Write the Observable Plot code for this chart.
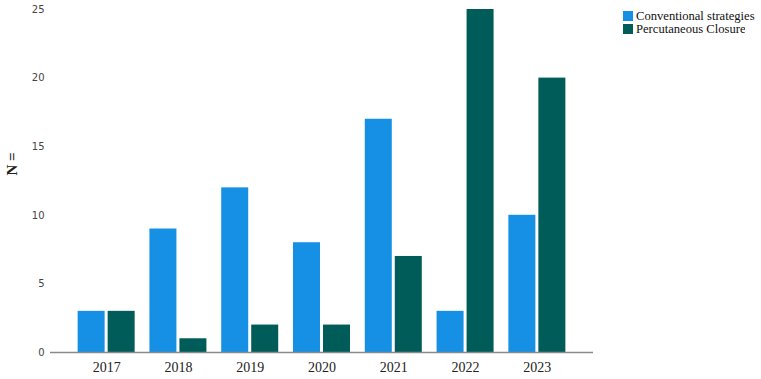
<!DOCTYPE html>
<html>
<head>
<meta charset="utf-8">
<script src="https://cdn.jsdelivr.net/npm/d3@7"></script>
<script src="https://cdn.jsdelivr.net/npm/@observablehq/plot@0.6"></script>
<style>
  html, body { margin: 0; padding: 0; background: #fff; }
  #wrap { position: relative; width: 761px; height: 379px; }
  #legend { position: absolute; left: 623px; top: 10px; }
  #legend > div { margin: 0 !important; min-height: 0 !important; }
  #legend > div > div { display: flex !important; align-items: center; margin: 0 !important; padding: 0 !important; height: 12.8px; line-height: 12.8px; }
  #legend svg { margin-right: 3px !important; }
</style>
</head>
<body>
<div id="wrap"><div id="legend"></div></div>
<script>
const years = ["2017", "2018", "2019", "2020", "2021", "2022", "2023"];
const seriesNames = ["Conventional strategies", "Percutaneous Closure"];
const conventional = [3, 9, 12, 8, 17, 3, 10];
const percutaneous = [3, 1, 2, 2, 7, 25, 20];
const yTicks = [0, 5, 10, 15, 20, 25];
const yLabel = "N =";
const colors = ["#1590e4", "#005c58"];

const convData = years.map((year, i) => ({year, series: seriesNames[0], n: conventional[i]}));
const percData = years.map((year, i) => ({year, series: seriesNames[1], n: percutaneous[i]}));

const chart = Plot.plot({
  width: 761,
  height: 379,
  marginLeft: 50,
  marginRight: 168,
  marginTop: 9,
  marginBottom: 27,
  x: {domain: years, paddingInner: 0.206, paddingOuter: 0.385, round: false, label: null, axis: null},
  y: {domain: [0, 25], label: null, axis: null},
  color: {domain: seriesNames, range: colors},
  marks: [
    Plot.barY(convData, {x: "year", y: "n", fill: "series", insetRight: 30}),
    Plot.barY(percData, {x: "year", y: "n", fill: "series", insetLeft: 30}),
    Plot.ruleY([0], {stroke: "#8a8a8a", strokeWidth: 1.5}),
    Plot.axisY(yTicks, {tickSize: 0, tickPadding: 6, fontSize: 10, fontFamily: "DejaVu Sans", fill: "#444", label: null}),
    Plot.axisX({tickSize: 0, tickPadding: 10, fontSize: 14, fontFamily: "Liberation Serif", fill: "#222", label: null}),
    Plot.text([yLabel], {frameAnchor: "left", rotate: -90, dx: -38, dy: -17, textAnchor: "middle", lineAnchor: "middle", fontSize: 15, fontWeight: "bold", fontFamily: "Liberation Serif", fill: "#222"})
  ]
});
document.getElementById("wrap").prepend(chart);

const legend = Plot.legend({
  color: {domain: seriesNames, range: colors},
  legend: "swatches",
  columns: 1,
  swatchSize: 10,
  className: "lg",
  style: {fontFamily: "Liberation Serif", fontSize: "12.6px", color: "#111"}
});
document.getElementById("legend").appendChild(legend);
</script>
</body>
</html>
